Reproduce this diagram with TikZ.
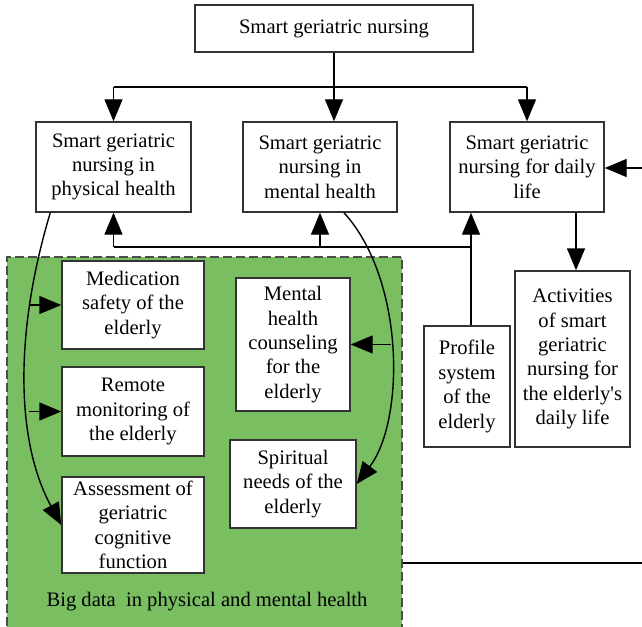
\documentclass[tikz,border=0pt]{standalone}
\usepackage{fontspec}
\setmainfont{Liberation Serif}[Ligatures=TeXOff]
\usetikzlibrary{arrows.meta}
\definecolor{bdgreen}{RGB}{122,190,98}
\tikzset{
  box/.style={draw=black!80,fill=white,line width=.7pt,align=center,inner sep=0pt,
    font=\fontsize{10.3}{12.2}\selectfont},
  flow/.style={line width=.7pt,-{Triangle[length=11pt,width=9pt]}},
  link/.style={line width=.7pt}
}

\begin{document}
\begin{tikzpicture}[x=.5pt,y=-.5pt]
 \useasboundingbox (0,0) rectangle (642,626);
 % big data area
 \node[draw=black!70,fill=bdgreen,dash pattern=on 4.5pt off 2pt,line width=.7pt,
   minimum width=197.5pt,minimum height=192pt,inner sep=0pt] (bigdata) at (204.5,449) {};
 \node[font=\fontsize{10.3}{12.2}\selectfont] (bdlabel) at (207,602) {Big data\ \ in physical and mental health};
 \foreach \x/\y/\w/\h/\id/\txt in
  {334/28.5/278/47/top/{Smart geriatric nursing},
   113.5/167/155/90/phys/{Smart geriatric\\nursing in\\physical health},
   320/167/154/90/ment/{Smart geriatric\\nursing in\\mental health},
   527/167/154/90/daily/{Smart geriatric\\nursing for daily\\life},
   133/305/142/88/medic/{Medication\\safety of the\\elderly},
   133/411.5/142/89/remote/{Remote\\monitoring of\\the elderly},
   133/525/142/96/assess/{Assessment of\\geriatric\\cognitive\\function},
   293/344.5/114/133/counsel/{Mental\\health\\counseling\\for the\\elderly},
   293/484/126/88/spirit/{Spiritual\\needs of the\\elderly},
   467/386.5/86/121/profile/{Profile\\system\\of the\\elderly},
   572.5/359/115/176/activ/{Activities\\of smart\\geriatric\\nursing for\\the elderly's\\daily life}}{
  \node[box,minimum width=\w*.5pt,minimum height=\h*.5pt] (\id) at (\x,\y) {\txt};}
 % top level split
 \coordinate (hub) at (334,87);
 \draw[link] (top.south) -- (hub);
 \draw[link] (phys.north |- hub) -- (daily.north |- hub);
 \draw[flow] (phys.north |- hub) -- (phys.north);
 \draw[flow] (hub) -- (hub |- ment.north);
 \draw[flow] (daily.north |- hub) -- (daily.north);
 % feedback bus
 \coordinate (bus) at (114,247);
 \coordinate (pfx) at (471,0);
 \draw[link] (phys.south |- bus) -- (pfx |- bus);
 \draw[flow] (phys.south |- bus) -- (phys.south);
 \draw[flow] (ment.south |- bus) -- (ment.south);
 \draw[flow] (pfx |- profile.north) -- (pfx |- daily.south);
 \coordinate (acx) at (576,0);
 \draw[flow] (acx |- daily.south) -- (acx |- activ.north);
 \coordinate (inR) at (642,168);
 \draw[flow] (inR) -- (inR -| daily.east);
 \coordinate (outR) at (642,563);
 \draw[link] (bigdata.east |- outR) -- (outR);
 % curved links into big data
 \coordinate (lbus) at (29,0);
 \coordinate (rbus) at (391,0);
 \draw[flow] ([xshift=7.5pt]phys.south west) .. controls (15,330) and (15,440) .. (assess.west);
 \draw[flow] (lbus |- medic.west) -- (medic.west);
 \draw[flow] (lbus |- remote.west) -- (remote.west);
 \draw[flow] ([xshift=12pt]ment.south) .. controls (405,280) and (405,420) .. (spirit.east);
 \draw[flow] (rbus |- counsel.east) -- (counsel.east);
\end{tikzpicture}
\end{document}
